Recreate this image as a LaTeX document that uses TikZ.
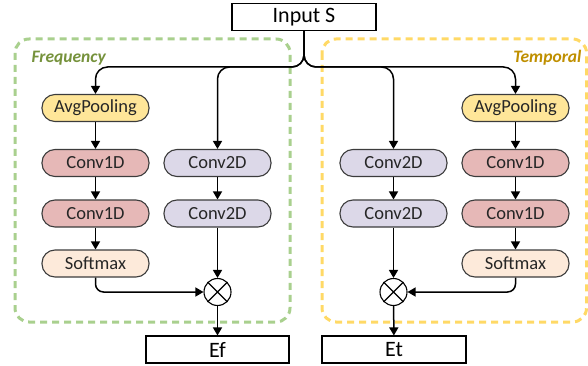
\documentclass[tikz,border=0pt]{standalone}
\usepackage{fontspec}
\setmainfont{Carlito}
\usetikzlibrary{arrows.meta}
\definecolor{avgc}{RGB}{255,230,153}
\definecolor{c1c}{RGB}{230,184,183}
\definecolor{c2c}{RGB}{220,216,232}
\definecolor{smc}{RGB}{253,234,218}
\definecolor{grn}{RGB}{169,208,142}
\definecolor{ylw}{RGB}{255,217,102}
\definecolor{grntxt}{RGB}{118,146,60}
\definecolor{ylwtxt}{RGB}{191,143,0}
\definecolor{bord}{RGB}{60,60,60}
\tikzset{
  blk/.style={draw=bord, line width=1.1pt, rounded corners=13pt, minimum width=107pt, minimum height=27pt, inner sep=0pt, font=\fontsize{18.5}{21}\selectfont, text=black!85},
  outbox/.style={draw=black, line width=1.1pt, minimum height=27pt, inner sep=0pt, font=\fontsize{22}{25}\selectfont},
  mul/.style={draw=black, line width=1.1pt, circle, minimum size=27pt, inner sep=0pt},
  arr/.style={line width=1.5pt, -{Triangle[length=8pt,width=9pt]}},
  grp/.style={line width=3pt, dash pattern=on 7pt off 5pt, rounded corners=14pt}
}
\begin{document}
\begin{tikzpicture}[x=1pt,y=-1pt]
\useasboundingbox (0,0) rectangle (588,366);
% groups
\draw[grp, draw=grn] (15,39) rectangle (290,322);
\draw[grp, draw=ylw] (322,39) rectangle (586.5,322);
\node[anchor=west, text=grntxt, font=\fontsize{17.5}{20}\selectfont\bfseries\itshape] (flab) at (28,58) {Frequency};
\node[anchor=east, text=ylwtxt, font=\fontsize{17.5}{20}\selectfont\bfseries\itshape] (tlab) at (585,58) {Temporal};
% input
\node[outbox, minimum width=144pt] (in) at (304,17) {Input S};
% left branch
\node[blk, fill=avgc] (avgL) at (95.5,108) {AvgPooling};
\node[blk, fill=c1c] (c1L) at (95.5,163) {Conv1D};
\node[blk, fill=c1c] (c1Lb) at (95.5,213.5) {Conv1D};
\node[blk, fill=smc] (smL) at (95.5,263.5) {Softmax};
\node[blk, fill=c2c] (c2L) at (217.5,163) {Conv2D};
\node[blk, fill=c2c] (c2Lb) at (217.5,213.5) {Conv2D};
\node[mul] (mL) at (217.5,292) {};
\draw[line width=1.1pt] (mL.north west) -- (mL.south east) (mL.north east) -- (mL.south west);
\node[outbox, minimum width=143pt] (ef) at (217.5,349.5) {Ef};
% right branch
\node[blk, fill=avgc] (avgR) at (515.5,108) {AvgPooling};
\node[blk, fill=c1c] (c1R) at (515.5,163) {Conv1D};
\node[blk, fill=c1c] (c1Rb) at (515.5,213.5) {Conv1D};
\node[blk, fill=smc] (smR) at (515.5,263.5) {Softmax};
\node[blk, fill=c2c] (c2R) at (393.5,163) {Conv2D};
\node[blk, fill=c2c] (c2Rb) at (393.5,213.5) {Conv2D};
\node[mul] (mR) at (393.5,292) {};
\draw[line width=1.1pt] (mR.north west) -- (mR.south east) (mR.north east) -- (mR.south west);
\node[outbox, minimum width=144pt] (et) at (394,349.5) {Et};
% fan-out
\coordinate (j) at (304,67);
\draw[arr, rounded corners=12pt] (in.south) -- (j) -- (avgL.north |- j) -- (avgL.north);
\draw[arr, rounded corners=12pt] (in.south) -- (j) -- (c2L.north |- j) -- (c2L.north);
\draw[arr, rounded corners=12pt] (in.south) -- (j) -- (avgR.north |- j) -- (avgR.north);
\draw[arr, rounded corners=12pt] (in.south) -- (j) -- (c2R.north |- j) -- (c2R.north);
% left chains
\draw[arr] (avgL) -- (c1L);
\draw[arr] (c1L) -- (c1Lb);
\draw[arr] (c1Lb) -- (smL);
\draw[arr] (c2L) -- (c2Lb);
\draw[arr] (c2Lb) -- (mL);
\draw[arr, rounded corners=8pt] (smL.south) |- (mL.west);
\draw[arr] (mL) -- (ef);
% right chains
\draw[arr] (avgR) -- (c1R);
\draw[arr] (c1R) -- (c1Rb);
\draw[arr] (c1Rb) -- (smR);
\draw[arr] (c2R) -- (c2Rb);
\draw[arr] (c2Rb) -- (mR);
\draw[arr, rounded corners=8pt] (smR.south) |- (mR.east);
\draw[arr] (mR) -- (et);
\end{tikzpicture}
\end{document}
